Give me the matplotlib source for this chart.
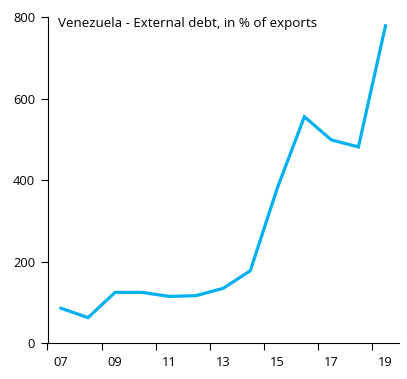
import matplotlib
matplotlib.use("Agg")
import matplotlib.pyplot as plt

years = [2007, 2008, 2009, 2010, 2011, 2012, 2013, 2014, 2015, 2016, 2017, 2018, 2019]
debt_pct_exports = [86, 63, 125, 125, 115, 117, 135, 178, 381, 556, 499, 482, 779]
label_years = [2007, 2009, 2011, 2013, 2015, 2017, 2019]
y_ticks = [0, 200, 400, 600, 800]

plt.rcParams['font.family'] = ['Open Sans', 'DejaVu Sans']

fig = plt.figure(figsize=(4.07, 3.79), dpi=100)
ax = fig.add_axes([47.5 / 407, (379 - 343.3) / 379, (399 - 47.5) / 407, (343.3 - 17.3) / 379])

ax.plot(years, debt_pct_exports, color='#00B0F0', lw=2.3, solid_joinstyle='miter')

ax.set_xlim(years[0] - 0.5, years[-1] + 0.5)
ax.set_ylim(0, 800)
ax.set_yticks(y_ticks)
ax.set_yticklabels([str(v) for v in y_ticks], fontsize=9.3)

# tick marks sit between categories, labels every other year
ax.set_xticks([y - 0.5 for y in label_years])
ax.set_xticklabels([])
ax.set_xticks(label_years, minor=True)
ax.set_xticklabels([str(y)[2:] for y in label_years], minor=True, fontsize=9.3)
ax.tick_params(axis='x', which='major', length=5, width=0.8, direction='out')
ax.tick_params(axis='x', which='minor', length=0, pad=9)
ax.tick_params(axis='y', length=5, width=0.8, direction='out', pad=4)

for s in ['top', 'right']:
    ax.spines[s].set_visible(False)
for s in ['left', 'bottom']:
    ax.spines[s].set_linewidth(0.8)

ax.text(0.03, 0.98, 'Venezuela - External debt, in % of exports', transform=ax.transAxes,
        fontsize=9.6, va='center', ha='left')

fig.savefig('out.png', dpi=100)
